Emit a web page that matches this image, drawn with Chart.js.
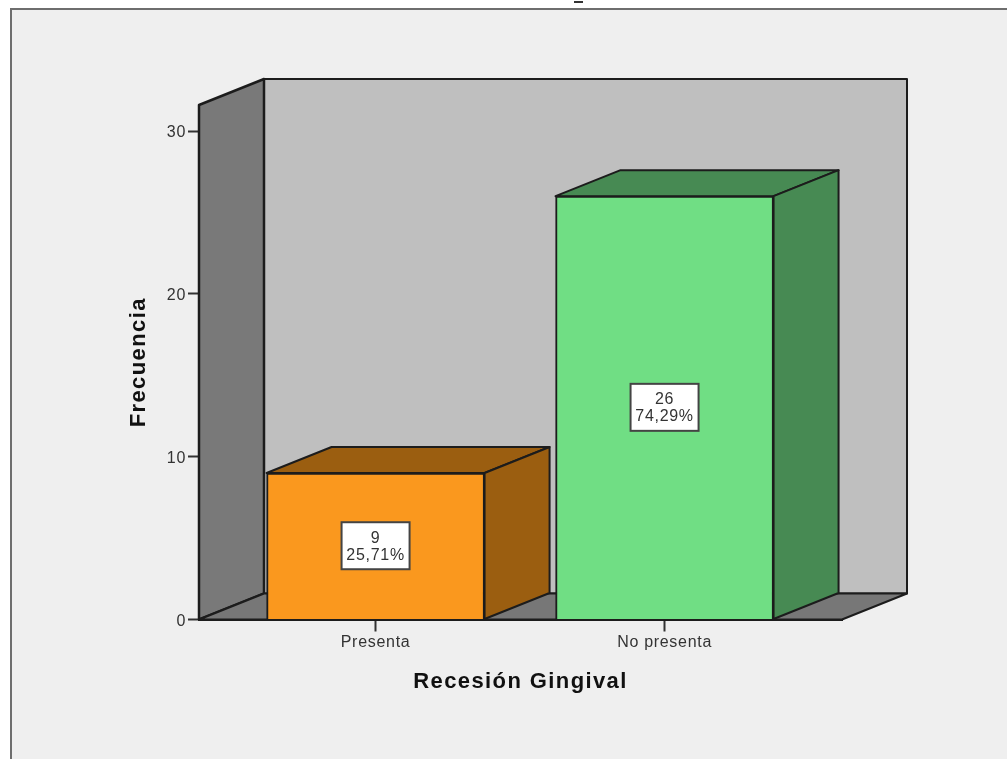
<!DOCTYPE html>
<html lang="es">
<head>
<meta charset="utf-8">
<title>Recesión Gingival</title>
<script src="https://cdn.jsdelivr.net/npm/chart.js@4"></script>
<style>
    html, body { margin: 0; padding: 0; background: #fff; overflow: hidden; }
    #wrap { position: relative; width: 1007px; height: 759px; }
</style>
</head>
<body>
<div id="wrap"><canvas id="recesionChart" width="1007" height="759"></canvas></div>
<script>
// Frecuencias de recesión gingival
const categories = ['Presenta', 'No presenta'];
const counts = [9, 26];
const percentLabels = ['25,71%', '74,29%'];
const yTicks = [0, 10, 20, 30];
const xTitle = 'Recesión Gingival';
const yTitle = 'Frecuencia';

const frontColors = ['#fa981e', '#70de84'];
const sideColors = ['#9b5e10', '#478a53'];

const FONT = '"Liberation Sans", Arial, sans-serif';
const LINE = '#1c1c1c';
// Depth of the fake 3D box, in pixels
const DEPTH_X = 65;
const DEPTH_Y = 26;

function poly(ctx, points, fill, lineWidth = 2) {
    ctx.beginPath();
    points.forEach((p, i) => (i ? ctx.lineTo(p[0], p[1]) : ctx.moveTo(p[0], p[1])));
    ctx.closePath();
    ctx.fillStyle = fill;
    ctx.fill();
    ctx.lineWidth = lineWidth;
    ctx.strokeStyle = LINE;
    ctx.lineJoin = 'round';
    ctx.stroke();
}

// Panel background with its grey frame on the top and left
const panelPlugin = {
    id: 'panel',
    beforeDraw(chart) {
        const ctx = chart.ctx;
        // Stays set for the tick labels that the scales draw later
        ctx.letterSpacing = '0.7px';
        ctx.save();
        ctx.fillStyle = '#ffffff';
        ctx.fillRect(0, 0, chart.width, chart.height);
        ctx.fillStyle = '#efefef';
        ctx.fillRect(11, 9, chart.width - 11, chart.height - 9);
        ctx.fillStyle = '#6e6e6e';
        ctx.fillRect(10, 8, chart.width - 10, 2);
        ctx.fillRect(10, 8, 2, chart.height - 8);
        // Descender of the heading that is cut off by the top edge
        ctx.fillStyle = '#333333';
        ctx.fillRect(574, 1, 9, 2);
        ctx.restore();
    }
};

// Walls, floor and the side and top faces of each bar
const boxPlugin = {
    id: 'box3d',
    beforeDatasetsDraw(chart) {
        const ctx = chart.ctx;
        const { left, right, top, bottom } = chart.chartArea;
        const bx = DEPTH_X;
        const by = DEPTH_Y;
        ctx.save();
        poly(ctx, [[left + bx, top - by], [right + bx, top - by], [right + bx, bottom - by], [left + bx, bottom - by]], '#bfbfbf');
        poly(ctx, [[left, top], [left + bx, top - by], [left + bx, bottom - by], [left, bottom]], '#797979', 2.5);
        poly(ctx, [[left, bottom], [left + bx, bottom - by], [right + bx, bottom - by], [right, bottom]], '#777777');
        chart.getDatasetMeta(0).data.forEach((bar, i) => {
            const x0 = bar.x - bar.width / 2;
            const x1 = bar.x + bar.width / 2;
            poly(ctx, [[x0, bar.y], [x0 + bx, bar.y - by], [x1 + bx, bar.y - by], [x1, bar.y]], sideColors[i]);
            poly(ctx, [[x1, bar.y], [x1 + bx, bar.y - by], [x1 + bx, bar.base - by], [x1, bar.base]], sideColors[i]);
        });
        ctx.restore();
    },
    // Value boxes in the middle of each bar
    afterDatasetsDraw(chart) {
        const ctx = chart.ctx;
        const yScale = chart.scales.y;
        ctx.save();
        ctx.font = '16px ' + FONT;
        ctx.textAlign = 'center';
        ctx.textBaseline = 'middle';
        chart.getDatasetMeta(0).data.forEach((bar, i) => {
            const cy = yScale.getPixelForValue(counts[i] / 2);
            ctx.fillStyle = '#ffffff';
            ctx.fillRect(bar.x - 34, cy - 24, 68, 47);
            ctx.strokeStyle = '#444444';
            ctx.lineWidth = 2;
            ctx.strokeRect(bar.x - 34, cy - 24, 68, 47);
            ctx.fillStyle = '#333333';
            ctx.fillText(String(counts[i]), bar.x, cy - 8);
            ctx.fillText(percentLabels[i], bar.x, cy + 9);
        });
        ctx.restore();
    }
};

// Axis titles, spaced wider than the tick labels
const axisTitlePlugin = {
    id: 'axisTitles',
    afterDraw(chart) {
        const ctx = chart.ctx;
        const { left, right, top, bottom } = chart.chartArea;
        ctx.save();
        ctx.letterSpacing = '1.4px';
        ctx.font = 'bold 22px ' + FONT;
        ctx.fillStyle = '#111111';
        ctx.textAlign = 'center';
        ctx.textBaseline = 'middle';
        ctx.fillText(xTitle, (left + right) / 2, bottom + 62);
        ctx.translate(left - 60, (top + bottom) / 2);
        ctx.rotate(-Math.PI / 2);
        ctx.fillText(yTitle, 0, 0);
        ctx.restore();
    }
};

new Chart(document.getElementById('recesionChart'), {
    type: 'bar',
    data: {
        datasets: [{
            data: categories.map((c, i) => ({ x: i, y: counts[i] })),
            backgroundColor: frontColors,
            borderColor: LINE,
            borderWidth: 2,
            barThickness: 218
        }]
    },
    options: {
        responsive: false,
        animation: false,
        layout: { padding: { left: 0, right: 165, top: 105, bottom: 0 } },
        plugins: { legend: { display: false }, tooltip: { enabled: false } },
        scales: {
            x: {
                type: 'linear',
                offset: false,
                min: -0.611,
                max: 1.614,
                afterFit: (scale) => { scale.height = 139.5; },
                afterBuildTicks: (scale) => { scale.ticks = categories.map((c, i) => ({ value: i })); },
                grid: { offset: false, drawOnChartArea: false, tickLength: 12, tickColor: '#333333', tickWidth: 2 },
                border: { color: LINE, width: 2 },
                ticks: {
                    autoSkip: false,
                    maxRotation: 0,
                    color: '#333333',
                    padding: 1,
                    font: { family: FONT, size: 16 },
                    callback: (value) => categories[value]
                }
            },
            y: {
                min: 0,
                max: 31.6,
                afterFit: (scale) => { scale.width = 199; },
                afterBuildTicks: (scale) => { scale.ticks = yTicks.map((v) => ({ value: v })); },
                grid: { drawOnChartArea: false, tickLength: 11, tickColor: '#333333', tickWidth: 2 },
                border: { color: LINE, width: 2 },
                ticks: {
                    color: '#333333',
                    padding: 2,
                    labelOffset: 2,
                    font: { family: FONT, size: 16 }
                }
            }
        }
    },
    plugins: [panelPlugin, boxPlugin, axisTitlePlugin]
});
</script>
</body>
</html>
